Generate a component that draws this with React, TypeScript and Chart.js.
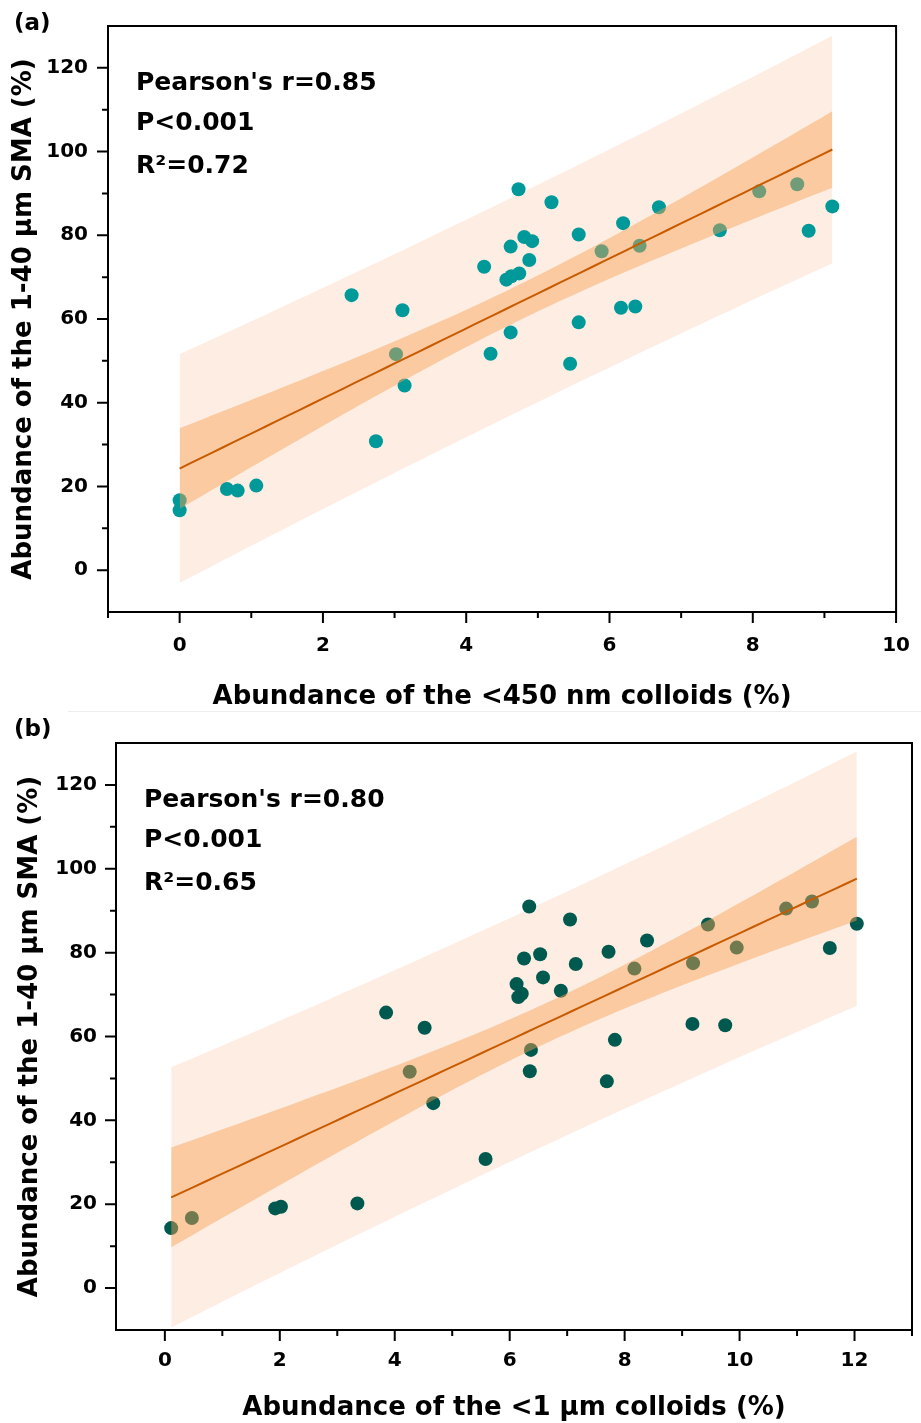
import React, { useEffect, useRef } from "react";
import { Chart, registerables } from "chart.js";

Chart.register(...registerables);

// ---- data ----
// Abundance of the 1-40 um SMA (%) – same samples in both panels
const smaAbundance = [
  16.7, 14.3, 19.4, 19.0, 20.2, 65.7, 30.8, 51.6, 62.1, 44.1, 72.5, 51.7,
  69.4, 56.8, 70.2, 77.3, 70.9, 91.0, 79.6, 74.1, 78.6, 87.9, 49.3, 80.2,
  59.2, 76.2, 62.7, 82.9, 63.0, 77.5, 86.7, 81.2, 90.5, 92.2, 81.1, 86.9,
];
// Abundance of the <450 nm colloids (%)
const colloids450nm = [
  0, 0, 0.66, 0.81, 1.07, 2.4, 2.74, 3.02, 3.11, 3.14, 4.25, 4.34,
  4.56, 4.62, 4.63, 4.62, 4.74, 4.73, 4.81, 4.88, 4.92, 5.19, 5.45, 5.57,
  5.57, 5.89, 6.16, 6.19, 6.36, 6.42, 6.69, 7.54, 8.09, 8.62, 8.78, 9.11,
];
// Abundance of the <1 um colloids (%)
const colloids1um = [
  0.47, 0.11, 2.02, 1.92, 3.35, 3.85, 5.58, 4.26, 4.52, 4.67, 6.12, 6.35,
  6.15, 6.37, 6.21, 7.15, 6.89, 6.34, 6.53, 6.58, 6.25, 7.05, 7.69, 7.72,
  7.83, 8.17, 9.75, 8.39, 9.18, 9.19, 9.45, 9.95, 10.81, 11.26, 11.57, 12.04,
];

const xTicksA = [0, 2, 4, 6, 8, 10];
const xMinorA = [-1, 1, 3, 5, 7, 9];
const xTicksB = [0, 2, 4, 6, 8, 10, 12];
const xMinorB = [1, 3, 5, 7, 9, 11, 13];
const yTicks = [0, 20, 40, 60, 80, 100, 120];
const yMinor = [10, 30, 50, 70, 90, 110];

const statsA = ["Pearson's r=0.85", "P<0.001", "R²=0.72"];
const statsB = ["Pearson's r=0.80", "P<0.001", "R²=0.65"];

const FONT = "DejaVu Sans";
Chart.defaults.font.family = FONT;

// ---- ordinary least squares with 95% confidence / prediction bands ----
function regression(xs: number[], ys: number[]) {
  const n = xs.length;
  const xm = xs.reduce((s, v) => s + v, 0) / n;
  const ym = ys.reduce((s, v) => s + v, 0) / n;
  let sxx = 0, sxy = 0;
  for (let i = 0; i < n; i++) {
    sxx += (xs[i] - xm) ** 2;
    sxy += (xs[i] - xm) * (ys[i] - ym);
  }
  const b = sxy / sxx;
  const a = ym - b * xm;
  let sse = 0;
  for (let i = 0; i < n; i++) sse += (ys[i] - (a + b * xs[i])) ** 2;
  const s = Math.sqrt(sse / (n - 2));
  const t = 2.032; // t(0.975, df=34)
  const xmin = Math.min(...xs);
  const xmax = Math.max(...xs);
  const line: any[] = [], ciLo: any[] = [], ciHi: any[] = [], piLo: any[] = [], piHi: any[] = [];
  const steps = 60;
  for (let i = 0; i <= steps; i++) {
    const x = xmin + ((xmax - xmin) * i) / steps;
    const y = a + b * x;
    const k = 1 / n + (x - xm) ** 2 / sxx;
    const ci = t * s * Math.sqrt(k);
    const pi = t * s * Math.sqrt(1 + k);
    line.push({ x, y });
    ciLo.push({ x, y: y - ci });
    ciHi.push({ x, y: y + ci });
    piLo.push({ x, y: y - pi });
    piHi.push({ x, y: y + pi });
  }
  return { line, ciLo, ciHi, piLo, piHi };
}

type PanelCfg = {
  xs: number[];
  ys: number[];
  xMin: number;
  xMax: number;
  xTicks: number[];
  xMinor: number[];
  xTitle: string;
  yTitle: string;
  stats: string[];
  label: string;
  labelY: number;
  pointColor: string;
  height: number;
  padTop: number;
  padRight: number;
  yWidth: number;
  xHeight: number;
  yTickPad: number;
  xTickPad: number;
  yTitlePad: number;
  xTitlePad: number;
  separator: boolean;
};

function Panel({ cfg }: { cfg: PanelCfg }) {
  const ref = useRef<HTMLCanvasElement>(null);
  useEffect(() => {
    const reg = regression(cfg.xs, cfg.ys);
    const points = cfg.xs.map((x, i) => ({ x, y: cfg.ys[i] }));

    const decor = {
      id: "decor",
      afterDraw(chart: any) {
        const { ctx, chartArea } = chart;
        const { left, right, top, bottom } = chartArea;
        const sx = chart.scales.x;
        const sy = chart.scales.y;
        ctx.save();
        ctx.strokeStyle = "#000";
        ctx.lineWidth = 2;
        ctx.strokeRect(left, top, right - left, bottom - top);
        ctx.beginPath();
        for (const v of cfg.xTicks) {
          const p = sx.getPixelForValue(v);
          ctx.moveTo(p, bottom);
          ctx.lineTo(p, bottom + 11);
        }
        for (const v of cfg.xMinor) {
          const p = sx.getPixelForValue(v);
          ctx.moveTo(p, bottom);
          ctx.lineTo(p, bottom + 6);
        }
        for (const v of yTicks) {
          const p = sy.getPixelForValue(v);
          ctx.moveTo(left, p);
          ctx.lineTo(left - 11, p);
        }
        for (const v of yMinor) {
          const p = sy.getPixelForValue(v);
          ctx.moveTo(left, p);
          ctx.lineTo(left - 6, p);
        }
        ctx.stroke();

        ctx.fillStyle = "#000";
        ctx.textAlign = "left";
        ctx.textBaseline = "alphabetic";
        ctx.font = `bold 25px "${FONT}"`;
        const offs = [64, 104, 147];
        cfg.stats.forEach((s, i) => ctx.fillText(s, left + 28, top + offs[i]));

        ctx.font = `bold 23px "${FONT}"`;
        ctx.textBaseline = "middle";
        ctx.fillText(cfg.label, 14, cfg.labelY);

        if (cfg.separator) {
          ctx.strokeStyle = "#eeeeee";
          ctx.lineWidth = 1;
          ctx.beginPath();
          ctx.moveTo(68, 0.5);
          ctx.lineTo(921, 0.5);
          ctx.stroke();
        }
        ctx.restore();
      },
    };

    const lineDs = (data: any[], extra: any) => ({
      type: "line",
      data,
      pointRadius: 0,
      borderWidth: 0,
      borderColor: "rgba(0,0,0,0)",
      tension: 0,
      ...extra,
    });

    const chart = new Chart(ref.current as HTMLCanvasElement, {
      type: "scatter",
      data: {
        datasets: [
          lineDs(reg.line, { borderColor: "#c85a00", borderWidth: 2, order: 0 }),
          lineDs(reg.ciLo, { order: 1 }),
          lineDs(reg.ciHi, { order: 1, fill: 1, backgroundColor: "rgba(250,160,80,0.45)" }),
          {
            type: "scatter",
            data: points,
            pointRadius: 7,
            pointBackgroundColor: cfg.pointColor,
            pointBorderWidth: 0,
            order: 2,
          },
          lineDs(reg.piLo, { order: 3 }),
          lineDs(reg.piHi, { order: 3, fill: 4, backgroundColor: "#fdede3" }),
        ] as any,
      },
      options: {
        animation: false,
        responsive: false,
        events: [],
        layout: { padding: { top: cfg.padTop, right: cfg.padRight, left: 0, bottom: 0 } },
        plugins: { legend: { display: false }, tooltip: { enabled: false } },
        scales: {
          x: {
            type: "linear",
            min: cfg.xMin,
            max: cfg.xMax,
            afterBuildTicks: (s: any) => {
              s.ticks = cfg.xTicks.map((v) => ({ value: v }));
            },
            afterFit: (s: any) => {
              s.height = cfg.xHeight;
            },
            grid: { display: true, drawOnChartArea: false, drawTicks: true, tickLength: 11, color: "rgba(0,0,0,0)" },
            border: { display: false },
            ticks: {
              color: "#000",
              padding: cfg.xTickPad,
              maxRotation: 0,
              autoSkip: false,
              font: { family: FONT, size: 20, weight: "bold" },
            },
            title: {
              display: true,
              text: cfg.xTitle,
              color: "#000",
              font: { family: FONT, size: 26, weight: "bold", lineHeight: 1 },
              padding: { top: 0, bottom: cfg.xTitlePad },
            },
          },
          y: {
            type: "linear",
            min: -10,
            max: 130,
            afterBuildTicks: (s: any) => {
              s.ticks = yTicks.map((v) => ({ value: v }));
            },
            afterFit: (s: any) => {
              s.width = cfg.yWidth;
            },
            grid: { display: true, drawOnChartArea: false, drawTicks: true, tickLength: 11, color: "rgba(0,0,0,0)" },
            border: { display: false },
            ticks: {
              color: "#000",
              padding: cfg.yTickPad,
              font: { family: FONT, size: 20, weight: "bold" },
            },
            title: {
              display: true,
              text: cfg.yTitle,
              color: "#000",
              font: { family: FONT, size: 26, weight: "bold", lineHeight: 1 },
              padding: { top: cfg.yTitlePad, bottom: 0 },
            },
          },
        },
      } as any,
      plugins: [decor],
    });
    return () => chart.destroy();
  }, []);
  return (
    <canvas
      ref={ref}
      width={921}
      height={cfg.height}
      style={{ display: "block", width: 921, height: cfg.height }}
    />
  );
}

const panelA: PanelCfg = {
  xs: colloids450nm,
  ys: smaAbundance,
  xMin: -1,
  xMax: 10,
  xTicks: xTicksA,
  xMinor: xMinorA,
  xTitle: "Abundance of the <450 nm colloids (%)",
  yTitle: "Abundance of the 1-40 μm SMA (%)",
  stats: statsA,
  label: "(a)",
  labelY: 24,
  pointColor: "#009999",
  height: 711,
  padTop: 26,
  padRight: 16,
  yWidth: 108,
  xHeight: 99,
  yTickPad: 9,
  xTickPad: 11,
  yTitlePad: 11,
  xTitlePad: 1,
  separator: false,
};

const panelB: PanelCfg = {
  xs: colloids1um,
  ys: smaAbundance,
  xMin: -0.85,
  xMax: 13,
  xTicks: xTicksB,
  xMinor: xMinorB,
  xTitle: "Abundance of the <1 μm colloids (%)",
  yTitle: "Abundance of the 1-40 μm SMA (%)",
  stats: statsB,
  label: "(b)",
  labelY: 19,
  pointColor: "#00594f",
  height: 712,
  padTop: 32,
  padRight: 9,
  yWidth: 116,
  xHeight: 93,
  yTickPad: 8,
  xTickPad: 8,
  yTitlePad: 17,
  xTitlePad: 2,
  separator: true,
};

export default function App() {
  return (
    <div style={{ position: "absolute", left: 0, top: 0, width: 921, height: 1423, background: "#fff" }}>
      <Panel cfg={panelA} />
      <Panel cfg={panelB} />
    </div>
  );
}
